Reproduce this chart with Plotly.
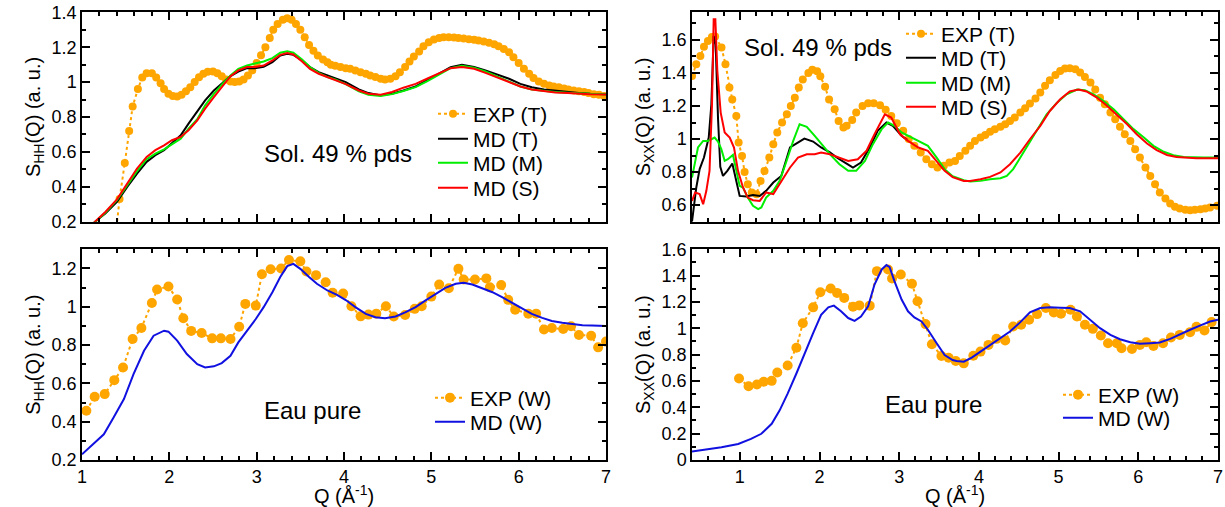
import plotly.graph_objects as go

# ---- top-left: S_HH, solution 49 % pds ----
tl_exp_x = [1.38, 1.43, 1.49, 1.54, 1.58, 1.64, 1.69, 1.74, 1.80, 1.85, 1.90, 1.94, 1.99, 2.04, 2.09, 2.14,
            2.19, 2.24, 2.29, 2.34, 2.39, 2.44, 2.50, 2.55, 2.60, 2.65, 2.70, 2.75, 2.80, 2.85, 2.90, 2.95,
            3.00, 3.05, 3.10, 3.15, 3.19, 3.24, 3.30, 3.35, 3.40, 3.45, 3.50, 3.55, 3.60, 3.65, 3.70, 3.76,
            3.81, 3.85, 3.90, 3.96, 4.02, 4.07, 4.13, 4.19, 4.25, 4.30, 4.36, 4.42, 4.47, 4.53, 4.59, 4.64,
            4.70, 4.75, 4.80, 4.86, 4.91, 4.97, 5.03, 5.09, 5.14, 5.20, 5.26, 5.31, 5.37, 5.43, 5.49, 5.54,
            5.60, 5.66, 5.72, 5.77, 5.83, 5.89, 5.94, 6.00, 6.06, 6.12, 6.17, 6.23, 6.29, 6.35, 6.40, 6.46,
            6.52, 6.57, 6.63, 6.69, 6.75, 6.80, 6.86, 6.92, 6.98]
tl_exp_y = [0.10, 0.33, 0.537, 0.72, 0.86, 0.96, 1.027, 1.05, 1.05, 1.027, 0.994, 0.96, 0.933, 0.92, 0.918, 0.928,
            0.947, 0.97, 1.0, 1.028, 1.048, 1.059, 1.061, 1.05, 1.034, 1.015, 1.004, 1.0, 1.004, 1.015, 1.038, 1.067,
            1.11, 1.154, 1.20, 1.253, 1.30, 1.333, 1.358, 1.366, 1.358, 1.333, 1.30, 1.257, 1.213, 1.18, 1.152, 1.13,
            1.114, 1.10, 1.093, 1.086, 1.08, 1.076, 1.067, 1.057, 1.048, 1.038, 1.029, 1.019, 1.015, 1.019, 1.034, 1.057,
            1.086, 1.118, 1.147, 1.175, 1.206, 1.229, 1.244, 1.253, 1.257, 1.257, 1.255, 1.253, 1.25, 1.246, 1.242, 1.238,
            1.232, 1.225, 1.217, 1.206, 1.19, 1.171, 1.143, 1.11, 1.076, 1.048, 1.023, 1.004, 0.99, 0.98, 0.975, 0.97,
            0.964, 0.958, 0.952, 0.947, 0.943, 0.937, 0.931, 0.928, 0.92]

tl_md_x = [1.00, 1.15, 1.27, 1.40, 1.52, 1.63, 1.74, 1.84, 1.94, 2.03, 2.13, 2.22, 2.32, 2.41, 2.51, 2.60,
           2.70, 2.79, 2.89, 2.98, 3.08, 3.18, 3.27, 3.35, 3.42, 3.52, 3.61, 3.71, 3.81, 3.90, 4.02, 4.17,
           4.28, 4.42, 4.55, 4.68, 4.82, 4.95, 5.09, 5.22, 5.35, 5.49, 5.62, 5.75, 5.89, 6.02, 6.15, 6.29,
           6.42, 6.56, 6.69, 6.82, 7.00]
tl_mdt_y = [0.13, 0.20, 0.248, 0.314, 0.40, 0.476, 0.543, 0.581, 0.61, 0.648, 0.695, 0.762, 0.829, 0.895, 0.952, 0.99,
            1.034, 1.06, 1.08, 1.08, 1.088, 1.114, 1.152, 1.162, 1.156, 1.124, 1.086, 1.057, 1.038, 1.023, 1.0, 0.958,
            0.937, 0.924, 0.933, 0.952, 0.975, 1.01, 1.048, 1.086, 1.10, 1.086, 1.067, 1.044, 1.019, 0.99, 0.971, 0.958,
            0.95, 0.943, 0.937, 0.933, 0.931]
tl_mdm_y = [0.13, 0.20, 0.253, 0.324, 0.41, 0.49, 0.558, 0.59, 0.615, 0.642, 0.676, 0.733, 0.787, 0.867, 0.933, 0.985,
            1.038, 1.076, 1.095, 1.107, 1.118, 1.137, 1.168, 1.177, 1.168, 1.13, 1.086, 1.053, 1.029, 1.015, 0.988, 0.947,
            0.928, 0.92, 0.931, 0.949, 0.971, 1.004, 1.044, 1.08, 1.094, 1.082, 1.061, 1.034, 1.004, 0.975, 0.958, 0.949,
            0.943, 0.939, 0.935, 0.933, 0.931]
tl_mds_y = [0.13, 0.20, 0.257, 0.328, 0.42, 0.505, 0.571, 0.61, 0.638, 0.667, 0.686, 0.724, 0.781, 0.848, 0.914, 0.971,
            1.034, 1.067, 1.086, 1.086, 1.095, 1.124, 1.156, 1.166, 1.158, 1.118, 1.076, 1.048, 1.029, 1.01, 0.988, 0.952,
            0.933, 0.928, 0.943, 0.968, 0.99, 1.019, 1.053, 1.08, 1.086, 1.076, 1.053, 1.029, 1.0, 0.975, 0.958, 0.949,
            0.941, 0.937, 0.933, 0.931, 0.929]

# ---- top-right: S_XX, solution 49 % pds ----
tr_exp_x = [0.40, 0.454, 0.505, 0.55, 0.60, 0.65, 0.69, 0.77, 0.82, 0.87, 0.905, 0.956, 0.985, 1.028, 1.06, 1.10,
            1.15, 1.21, 1.26, 1.31, 1.37, 1.42, 1.47, 1.53, 1.59, 1.64, 1.69, 1.74, 1.79, 1.86, 1.91, 1.97,
            2.01, 2.07, 2.12, 2.19, 2.24, 2.30, 2.34, 2.41, 2.46, 2.54, 2.61, 2.68, 2.76, 2.83, 2.90, 2.97,
            3.05, 3.12, 3.19, 3.27, 3.34, 3.41, 3.48, 3.56, 3.63, 3.70, 3.76, 3.83, 3.89, 3.95, 4.02, 4.08,
            4.14, 4.20, 4.27, 4.33, 4.39, 4.45, 4.52, 4.58, 4.64, 4.71, 4.77, 4.83, 4.89, 4.96, 5.02, 5.08,
            5.14, 5.21, 5.27, 5.33, 5.40, 5.46, 5.52, 5.58, 5.65, 5.71, 5.77, 5.83, 5.90, 5.96, 6.02, 6.09,
            6.15, 6.21, 6.27, 6.34, 6.40, 6.46, 6.52, 6.59, 6.65, 6.71, 6.78, 6.84, 6.90, 6.99]
tr_exp_y = [1.382, 1.453, 1.503, 1.558, 1.594, 1.618, 1.62, 1.554, 1.453, 1.312, 1.24, 1.14, 0.979, 0.898, 0.80, 0.727,
            0.677, 0.666, 0.747, 0.807, 0.888, 0.969, 1.04, 1.10, 1.15, 1.20, 1.25, 1.312, 1.36, 1.40, 1.42, 1.41,
            1.38, 1.316, 1.24, 1.18, 1.11, 1.07, 1.08, 1.116, 1.16, 1.20, 1.217, 1.217, 1.205, 1.177, 1.14, 1.096,
            1.05, 1.0, 0.96, 0.919, 0.878, 0.848, 0.828, 0.838, 0.858, 0.868, 0.898, 0.929, 0.959, 0.989, 1.009, 1.025,
            1.044, 1.06, 1.074, 1.09, 1.11, 1.13, 1.16, 1.187, 1.215, 1.245, 1.281, 1.322, 1.356, 1.388, 1.412, 1.427,
            1.429, 1.423, 1.402, 1.376, 1.342, 1.30, 1.25, 1.21, 1.16, 1.12, 1.074, 1.029, 0.989, 0.939, 0.888, 0.828,
            0.777, 0.727, 0.677, 0.64, 0.61, 0.59, 0.58, 0.572, 0.57, 0.572, 0.576, 0.58, 0.586, 0.596]

tr_mdt_x = [0.40, 0.454, 0.496, 0.55, 0.61, 0.643, 0.672, 0.697, 0.726, 0.755, 0.789, 0.843, 0.906, 0.956, 0.998, 1.08,
            1.165, 1.25, 1.33, 1.42, 1.52, 1.63, 1.73, 1.81, 1.92, 2.02, 2.13, 2.23, 2.34, 2.42, 2.52, 2.63,
            2.73, 2.84, 2.92, 3.03, 3.10]
tr_mdt_y = [0.50, 0.707, 0.818, 0.888, 1.009, 1.21, 1.624, 1.574, 1.13, 0.832, 0.777, 0.808, 0.852, 0.747, 0.656, 0.652,
            0.662, 0.656, 0.687, 0.737, 0.777, 0.949, 0.979, 1.003, 0.985, 0.949, 0.919, 0.884, 0.852, 0.828, 0.858, 0.949,
            1.05, 1.10, 1.08, 1.02, 0.995]

tr_mdm_x = [0.40, 0.44, 0.475, 0.54, 0.60, 0.643, 0.684, 0.726, 0.768, 0.81, 0.85, 0.914, 0.956, 0.998, 1.04, 1.10,
            1.165, 1.23, 1.27, 1.33, 1.42, 1.50, 1.58, 1.67, 1.75, 1.84, 1.94, 2.04, 2.15, 2.25, 2.36, 2.46,
            2.57, 2.67, 2.78, 2.86, 2.94, 3.03, 3.11, 3.24, 3.36, 3.47, 3.57, 3.67, 3.72, 3.81, 3.89, 4.02,
            4.14, 4.27, 4.35, 4.43, 4.52, 4.62, 4.73, 4.85, 4.98, 5.10, 5.23, 5.33, 5.44, 5.56, 5.69, 5.81,
            5.94, 6.07, 6.19, 6.32, 6.44, 6.57, 6.69, 6.82, 7.00]
tr_mdm_y = [0.767, 0.868, 0.949, 0.989, 0.989, 0.999, 1.009, 0.985, 0.939, 0.868, 0.878, 0.904, 0.808, 0.717, 0.707, 0.646,
            0.596, 0.576, 0.586, 0.646, 0.687, 0.747, 0.858, 0.989, 1.09, 1.074, 1.019, 0.959, 0.898, 0.848, 0.808, 0.808,
            0.868, 0.969, 1.06, 1.10, 1.08, 1.04, 1.02, 0.989, 0.959, 0.888, 0.818, 0.775, 0.765, 0.751, 0.743, 0.747,
            0.757, 0.763, 0.777, 0.818, 0.888, 0.969, 1.05, 1.15, 1.22, 1.271, 1.30, 1.296, 1.271, 1.231, 1.18, 1.12,
            1.06, 1.009, 0.959, 0.923, 0.902, 0.892, 0.888, 0.888, 0.888]

tr_mds_x = [0.40, 0.44, 0.496, 0.54, 0.58, 0.62, 0.651, 0.672, 0.693, 0.718, 0.76, 0.81, 0.873, 0.927, 0.977, 1.04,
            1.10, 1.165, 1.25, 1.33, 1.42, 1.52, 1.63, 1.73, 1.84, 1.94, 2.02, 2.13, 2.23, 2.36, 2.48, 2.59,
            2.69, 2.82, 2.90, 3.01, 3.11, 3.24, 3.36, 3.47, 3.57, 3.67, 3.72, 3.81, 3.89, 4.02, 4.14, 4.27,
            4.39, 4.52, 4.64, 4.77, 4.89, 5.02, 5.14, 5.25, 5.35, 5.48, 5.60, 5.73, 5.86, 5.98, 6.11, 6.23,
            6.36, 6.48, 6.61, 6.73, 6.86, 7.00]
tr_mds_y = [0.626, 0.677, 0.667, 0.606, 0.687, 0.808, 1.21, 1.725, 1.725, 1.412, 1.16, 1.04, 1.009, 0.949, 0.808, 0.707,
            0.646, 0.63, 0.626, 0.677, 0.667, 0.747, 0.828, 0.888, 0.908, 0.908, 0.918, 0.908, 0.892, 0.868, 0.878, 0.929,
            1.029, 1.15, 1.13, 1.029, 0.989, 0.949, 0.929, 0.868, 0.808, 0.77, 0.763, 0.747, 0.747, 0.757, 0.771, 0.798,
            0.848, 0.918, 0.999, 1.08, 1.17, 1.241, 1.288, 1.30, 1.288, 1.251, 1.205, 1.15, 1.09, 1.029, 0.973, 0.933,
            0.904, 0.892, 0.886, 0.884, 0.884, 0.884]

# ---- bottom-left: S_HH, pure water ----
bl_exp_x = [1.05, 1.145, 1.26, 1.37, 1.47, 1.58, 1.68, 1.80, 1.86, 1.99, 2.09, 2.16, 2.25, 2.37, 2.49, 2.59,
            2.70, 2.80, 2.87, 2.99, 3.06, 3.16, 3.28, 3.37, 3.50, 3.57, 3.68, 3.79, 3.87, 3.99, 4.085, 4.19,
            4.28, 4.37, 4.48, 4.57, 4.70, 4.81, 4.89, 5.00, 5.09, 5.20, 5.31, 5.37, 5.50, 5.63, 5.67, 5.80,
            5.88, 5.96, 6.11, 6.20, 6.29, 6.38, 6.51, 6.60, 6.69, 6.83, 6.91, 7.00]
bl_exp_y = [0.457, 0.53, 0.544, 0.617, 0.683, 0.832, 0.889, 1.02, 1.09, 1.106, 1.038, 0.94, 0.874, 0.863, 0.835, 0.835,
            0.832, 0.896, 1.015, 1.006, 1.17, 1.196, 1.20, 1.244, 1.237, 1.184, 1.165, 1.128, 1.073, 1.069, 1.003, 0.95,
            0.959, 0.964, 1.003, 0.949, 0.957, 0.989, 1.003, 1.053, 1.116, 1.097, 1.198, 1.142, 1.142, 1.148, 1.102, 1.114,
            1.036, 0.985, 0.964, 0.964, 0.881, 0.889, 0.884, 0.898, 0.853, 0.849, 0.788, 0.818]

bl_md_x = [1.00, 1.13, 1.25, 1.36, 1.48, 1.59, 1.71, 1.82, 1.94, 1.99, 2.09, 2.20, 2.32, 2.41, 2.51, 2.60,
           2.70, 2.79, 2.89, 2.99, 3.08, 3.18, 3.27, 3.35, 3.42, 3.50, 3.60, 3.69, 3.81, 3.92, 4.02, 4.13,
           4.25, 4.36, 4.47, 4.59, 4.70, 4.82, 4.93, 5.05, 5.16, 5.28, 5.37, 5.47, 5.58, 5.70, 5.81, 5.93,
           6.04, 6.15, 6.27, 6.38, 6.50, 6.61, 6.73, 6.84, 7.00]
bl_md_y = [0.23, 0.282, 0.334, 0.42, 0.518, 0.648, 0.77, 0.849, 0.875, 0.87, 0.823, 0.753, 0.70, 0.683, 0.689, 0.706,
           0.744, 0.814, 0.875, 0.936, 0.998, 1.076, 1.155, 1.212, 1.224, 1.198, 1.155, 1.12, 1.085, 1.062, 1.035, 0.998,
           0.963, 0.945, 0.94, 0.949, 0.971, 0.998, 1.032, 1.067, 1.099, 1.12, 1.125, 1.116, 1.097, 1.076, 1.05, 1.02,
           0.989, 0.963, 0.942, 0.926, 0.916, 0.909, 0.903, 0.902, 0.90]

# ---- bottom-right: S_XX, pure water ----
br_exp_x = [0.99, 1.11, 1.215, 1.30, 1.40, 1.47, 1.60, 1.71, 1.79, 1.92, 2.01, 2.14, 2.22, 2.31, 2.42, 2.50,
            2.63, 2.72, 2.86, 2.91, 3.02, 3.16, 3.23, 3.33, 3.41, 3.53, 3.62, 3.71, 3.81, 3.93, 4.02, 4.12,
            4.22, 4.33, 4.43, 4.53, 4.63, 4.73, 4.84, 4.94, 5.03, 5.15, 5.23, 5.33, 5.43, 5.53, 5.62, 5.73,
            5.79, 5.92, 6.02, 6.10, 6.19, 6.31, 6.41, 6.52, 6.65, 6.73, 6.83, 6.92]
br_exp_y = [0.619, 0.56, 0.573, 0.594, 0.601, 0.665, 0.718, 0.853, 1.039, 1.159, 1.274, 1.302, 1.269, 1.231, 1.164, 1.174,
            1.172, 1.434, 1.447, 1.378, 1.409, 1.338, 1.205, 1.032, 0.879, 0.79, 0.777, 0.752, 0.734, 0.792, 0.823, 0.874,
            0.92, 0.907, 1.014, 1.027, 1.065, 1.108, 1.154, 1.121, 1.111, 1.141, 1.09, 1.027, 0.996, 0.945, 0.887, 0.887,
            0.848, 0.843, 0.874, 0.894, 0.866, 0.887, 0.93, 0.95, 0.971, 1.011, 0.983, 1.047]

br_md_x = [0.40, 0.56, 0.77, 0.98, 1.14, 1.27, 1.40, 1.50, 1.60, 1.71, 1.81, 1.92, 2.02, 2.11, 2.18, 2.27,
           2.36, 2.44, 2.52, 2.61, 2.69, 2.78, 2.84, 2.88, 2.94, 3.03, 3.11, 3.19, 3.28, 3.36, 3.47, 3.57,
           3.67, 3.72, 3.81, 3.91, 4.02, 4.14, 4.27, 4.39, 4.52, 4.64, 4.77, 4.89, 5.02, 5.14, 5.27, 5.40,
           5.52, 5.65, 5.77, 5.90, 6.02, 6.15, 6.27, 6.40, 6.52, 6.65, 6.78, 6.90, 7.00]
br_md_y = [0.064, 0.076, 0.097, 0.122, 0.16, 0.199, 0.275, 0.377, 0.504, 0.657, 0.81, 0.963, 1.103, 1.159, 1.172, 1.129,
           1.078, 1.057, 1.09, 1.167, 1.332, 1.447, 1.48, 1.465, 1.358, 1.218, 1.129, 1.083, 1.052, 0.989, 0.887, 0.797,
           0.759, 0.752, 0.746, 0.777, 0.823, 0.874, 0.925, 0.976, 1.047, 1.121, 1.154, 1.159, 1.157, 1.154, 1.129, 1.065,
           1.001, 0.95, 0.917, 0.894, 0.882, 0.887, 0.892, 0.92, 0.955, 0.989, 1.022, 1.052, 1.065]

ORANGE = "#ffa500"
GREEN = "#00ee00"
RED = "#ff0000"
BLUE = "#1010e0"
FONT = "Liberation Sans, Arial, sans-serif"
H = 507.0
W = 1225.0

fig = go.Figure()
legends = {}
n_leg = [0]


# each legend row gets its own legend box so the rows can sit as tight as in the original
def new_legend(text_x, row_y):
    n_leg[0] += 1
    key = "legend" if n_leg[0] == 1 else "legend%d" % n_leg[0]
    legends[key] = dict(x=(text_x - 40) / W, y=1 - row_y / H, xanchor="left", yanchor="middle",
                        bgcolor="rgba(0,0,0,0)", font=dict(size=21), tracegroupgap=0)
    return key


def add_exp(x, y, name, xa, ya, size, text_x, row_y):
    fig.add_trace(go.Scatter(x=x, y=y, name=name, mode="lines+markers", xaxis=xa, yaxis=ya,
                             legend=new_legend(text_x, row_y), showlegend=True,
                             line=dict(color=ORANGE, width=2, dash="dot"),
                             marker=dict(color=ORANGE, size=size)))


def add_md(x, y, name, color, xa, ya, text_x, row_y):
    fig.add_trace(go.Scatter(x=x, y=y, name=name, mode="lines", xaxis=xa, yaxis=ya,
                             legend=new_legend(text_x, row_y), showlegend=True,
                             line=dict(color=color, width=2)))


# top-left
add_exp(tl_exp_x, tl_exp_y, "EXP (T)", "x", "y", 8, 473, 114)
add_md(tl_md_x, tl_mdt_y, "MD (T)", "black", "x", "y", 473, 139)
add_md(tl_md_x, tl_mdm_y, "MD (M)", GREEN, "x", "y", 473, 163)
add_md(tl_md_x, tl_mds_y, "MD (S)", RED, "x", "y", 473, 188)
# top-right
add_exp(tr_exp_x, tr_exp_y, "EXP (T)", "x2", "y2", 8, 941, 34)
add_md(tr_mdt_x, tr_mdt_y, "MD (T)", "black", "x2", "y2", 941, 58)
add_md(tr_mdm_x, tr_mdm_y, "MD (M)", GREEN, "x2", "y2", 941, 83)
add_md(tr_mds_x, tr_mds_y, "MD (S)", RED, "x2", "y2", 941, 107)
# bottom-left
add_exp(bl_exp_x, bl_exp_y, "EXP (W)", "x3", "y3", 10, 470, 398)
add_md(bl_md_x, bl_md_y, "MD (W)", BLUE, "x3", "y3", 470, 422)
# bottom-right
add_exp(br_exp_x, br_exp_y, "EXP (W)", "x4", "y4", 10, 1098, 395)
add_md(br_md_x, br_md_y, "MD (W)", BLUE, "x4", "y4", 1098, 418)


def ax(domain, rng, dtick, mdtick, labels, title=None, anchor=None, standoff=6):
    d = dict(domain=domain, range=rng, dtick=dtick, tick0=0, ticks="inside", ticklen=8, tickwidth=1.5,
             tickcolor="black", showline=True, linecolor="black", linewidth=1.5, mirror="allticks",
             showgrid=False, zeroline=False, showticklabels=labels, automargin=False,
             tickfont=dict(size=18, color="black"),
             minor=dict(ticks="inside", ticklen=4, dtick=mdtick, tickwidth=1.5, tickcolor="black", showgrid=False))
    if title:
        d["title"] = dict(text=title, font=dict(size=20, color="black"), standoff=standoff)
    if anchor:
        d["anchor"] = anchor
    return d


def note(text, x, y):
    return dict(text=text, x=x, y=y, xref="paper", yref="paper", xanchor="center", yanchor="middle",
                showarrow=False, font=dict(size=24, color="black"))


LX = [82 / W, 606 / W]
RX = [692 / W, 1218 / W]
TY = [1 - 221.7 / H, 1 - 12.3 / H]
BY = [1 - 460 / H, 1 - 249.3 / H]
XT = "Q (Å<sup>-1</sup>)"

fig.update_layout(
    width=1225, height=507, margin=dict(l=0, r=0, t=0, b=0),
    paper_bgcolor="white", plot_bgcolor="white", showlegend=True,
    font=dict(family=FONT, color="black"),
    xaxis=ax(LX, [1, 7], 1, 0.2, False, anchor="y"),
    yaxis=ax(TY, [0.2, 1.4], 0.2, 0.1, True, "S<sub>HH</sub>(Q) (a. u.)", anchor="x"),
    xaxis2=ax(RX, [0.4, 7], 1, 0.2, False, anchor="y2"),
    yaxis2=ax(TY, [0.5, 1.767], 0.2, 0.1, True, "S<sub>XX</sub>(Q) (a. u.)", anchor="x2"),
    xaxis3=ax(LX, [1, 7], 1, 0.2, True, XT, anchor="y3", standoff=11),
    yaxis3=ax(BY, [0.2, 1.3], 0.2, 0.1, True, "S<sub>HH</sub>(Q) (a. u.)", anchor="x3"),
    xaxis4=ax(RX, [0.4, 7], 1, 0.2, True, XT, anchor="y4", standoff=11),
    yaxis4=ax(BY, [0, 1.6], 0.2, 0.1, True, "S<sub>XX</sub>(Q) (a. u.)", anchor="x4"),
    annotations=[
        note("Sol. 49 % pds", 0.276, 0.698),
        note("Sol. 49 % pds", 0.668, 0.907),
        note("Eau pure", 0.2555, 0.191),
        note("Eau pure", 0.7624, 0.203),
    ],
    **legends,
)

fig.write_html("out.html", config={"displayModeBar": False},
               post_script="document.body.style.margin='0';")
